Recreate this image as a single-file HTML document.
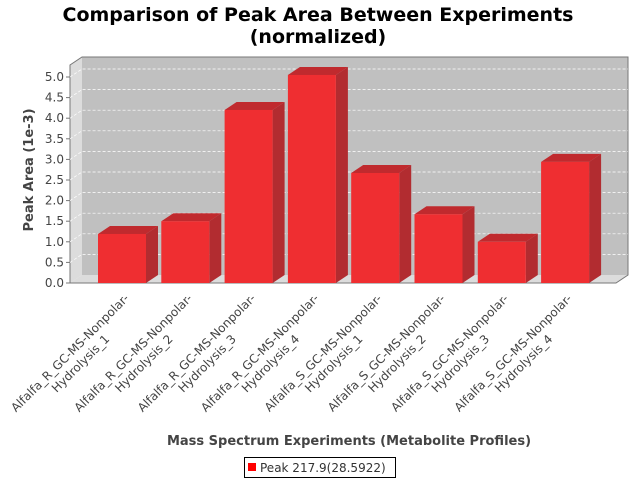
<!DOCTYPE html>
<html><head><meta charset="utf-8"><style>body{margin:0;background:#fff}svg{display:block;font-family:"DejaVu Sans","Liberation Sans",sans-serif}</style></head>
<body>
<svg width="640" height="480">
<rect width="640" height="480" fill="#fff"/>
<text x="318" y="21" font-size="19" font-weight="bold" text-anchor="middle">Comparison of Peak Area Between Experiments</text>
<text x="318" y="43" font-size="19" font-weight="bold" text-anchor="middle">(normalized)</text>
<polygon points="82,57 628,57 628,275 82,275" fill="#c0c0c0"/>
<polygon points="70,65 82,57 82,275 70,283" fill="#dcdcdc"/>
<polygon points="70,283 82,275 628,275 616,283" fill="#dcdcdc"/>
<polyline points="70,283 616,283 628,275 628,57 82,57 70,65 70,283" fill="none" stroke="#777"/>
<g id="grid"></g><g id="yaxis"></g><g id="bars"></g><g id="xlabels"></g>
<text transform="translate(33,170) rotate(-90)" font-size="13" font-weight="bold" fill="#444" text-anchor="middle">Peak Area (1e-3)</text>
<text x="349" y="445" font-size="13" font-weight="bold" fill="#444" text-anchor="middle">Mass Spectrum Experiments (Metabolite Profiles)</text>
<g>
<rect x="244.5" y="457.5" width="151" height="20" fill="#fff" stroke="#000"/>
<rect x="248" y="463" width="8" height="8" fill="#f00"/>
<text x="260" y="472" font-size="12" fill="#333">Peak 217.9(28.5922)</text>
</g>
</svg>
<script>
const categories=["Alfalfa_R_GC-MS-Nonpolar-|Hydrolysis_1","Alfalfa_R_GC-MS-Nonpolar-|Hydrolysis_2","Alfalfa_R_GC-MS-Nonpolar-|Hydrolysis_3","Alfalfa_R_GC-MS-Nonpolar-|Hydrolysis_4","Alfalfa_S_GC-MS-Nonpolar-|Hydrolysis_1","Alfalfa_S_GC-MS-Nonpolar-|Hydrolysis_2","Alfalfa_S_GC-MS-Nonpolar-|Hydrolysis_3","Alfalfa_S_GC-MS-Nonpolar-|Hydrolysis_4"];
const values=[1.19,1.50,4.20,5.05,2.67,1.67,1.00,2.94];
const yTicks=[0,0.5,1,1.5,2,2.5,3,3.5,4,4.5,5];
const NS="http://www.w3.org/2000/svg";
const y0=283,ppu=41.2,dx=12,dy=-8,left=70,step=63.3,bw=48;
const Y=v=>y0-v*ppu, X=i=>left+28+bw/2+i*step;
function mk(t,a,p){const e=document.createElementNS(NS,t);for(const k in a)e.setAttribute(k,a[k]);p.appendChild(e);return e;}
const grid=document.getElementById('grid'),ya=document.getElementById('yaxis'),bars=document.getElementById('bars'),xl=document.getElementById('xlabels');
yTicks.forEach(t=>{const y=Y(t);
 if(t>0){const l=mk('polyline',{points:`${left},${y} ${left+dx},${y+dy} 628,${y+dy}`,fill:'none',stroke:'#fff','stroke-dasharray':'3,2','stroke-width':0.7},grid);
 
 }
 const tk=mk('line',{x1:left-4,x2:left,y1:y,y2:y,stroke:'#777'},ya);
 
 
 const tx=mk('text',{x:left-6,y:y+4,'font-size':12,fill:'#444','text-anchor':'end'},ya);
 
 
 tx.textContent=t.toFixed(1);});
values.forEach((v,i)=>{const x=X(i)-bw/2,y=Y(v),g=mk('g',{},bars);
 
 
 mk('polygon',{points:`${x},${y} ${x+dx},${y+dy} ${x+bw+dx},${y+dy} ${x+bw},${y}`,fill:'#c02a2e'},g);
 mk('polygon',{points:`${x+bw},${y} ${x+bw+dx},${y+dy} ${x+bw+dx},${y0+dy} ${x+bw},${y0}`,fill:'#b22c30'},g);
 mk('rect',{x:x,y:y,width:bw,height:y0-y,fill:'#ef2e31'},g);
 const [a,b]=categories[i].split('|');
 const tg=mk('g',{transform:`translate(${X(i)-52},353) rotate(-45)`,'font-size':12,fill:'#444','text-anchor':'middle'},xl);
 
 
 mk('text',{x:0,y:4},tg).textContent=a;
 mk('text',{x:0,y:19},tg).textContent=b;});
</script>
</body></html>
